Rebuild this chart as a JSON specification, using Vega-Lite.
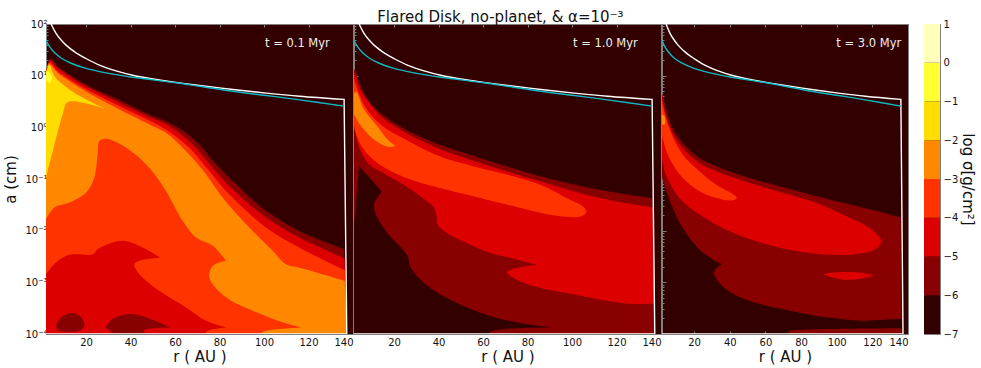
{"$schema":"https://vega.github.io/schema/vega-lite/v6.json","background":"white","padding":{"left":3,"top":9,"right":2,"bottom":2},"title":{"text":"Flared Disk,  no-planet, & α=10⁻³","fontSize":15,"fontWeight":"normal","font":"DejaVu Sans","color":"#111","anchor":"middle","offset":-3,"dy":3,"dx":11},"config":{"font":"DejaVu Sans","view":{"stroke":"#808080","fill":"#330000","strokeWidth":1},"axis":{"grid":false,"labelFontSize":10,"labelColor":"#111","tickColor":"#808080","domainColor":"#808080","titleFontSize":15,"titleFontWeight":"normal","titleColor":"#111","zindex":1}},"datasets":{"curves":[{"s":"white","r":4.3,"a":100},{"s":"white","r":6.5,"a":66},{"s":"white","r":8.8,"a":49},{"s":"white","r":11,"a":39},{"s":"white","r":15.5,"a":27.6},{"s":"white","r":20,"a":21.4},{"s":"white","r":26,"a":16},{"s":"white","r":33.5,"a":12.4},{"s":"white","r":41,"a":10.2},{"s":"white","r":50,"a":8.6},{"s":"white","r":60.4,"a":7.4},{"s":"white","r":71,"a":6.45},{"s":"white","r":86,"a":5.4},{"s":"white","r":101,"a":4.6},{"s":"white","r":116,"a":4},{"s":"white","r":136,"a":3.47},{"s":"white","r":136,"a":3.47},{"s":"white","r":137.2,"a":0.0001},{"s":"white","r":137.2,"a":0.0001},{"s":"white","r":2,"a":0.0001},{"s":"teal","r":2,"a":48},{"s":"teal","r":3.5,"a":37},{"s":"teal","r":5.8,"a":28},{"s":"teal","r":8.8,"a":22},{"s":"teal","r":13.3,"a":17.4},{"s":"teal","r":20,"a":13.8},{"s":"teal","r":29,"a":11.3},{"s":"teal","r":41,"a":9.3},{"s":"teal","r":60.4,"a":7.3},{"s":"teal","r":71,"a":6.25},{"s":"teal","r":86,"a":5},{"s":"teal","r":101,"a":4.13},{"s":"teal","r":116,"a":3.4},{"s":"teal","r":136,"a":2.57}],"p1":[{"g":"a","l":"-6","r":2,"a":12.2},{"g":"a","l":"-6","r":4,"a":21.4},{"g":"a","l":"-6","r":7.3,"a":15.2},{"g":"a","l":"-6","r":18.5,"a":7.25},{"g":"a","l":"-6","r":33.5,"a":3.61},{"g":"a","l":"-6","r":48.4,"a":1.77},{"g":"a","l":"-6","r":58.9,"a":1.14},{"g":"a","l":"-6","r":69.4,"a":0.542},{"g":"a","l":"-6","r":78.4,"a":0.192},{"g":"a","l":"-6","r":85.9,"a":0.0917},{"g":"a","l":"-6","r":100.9,"a":0.0242},{"g":"a","l":"-6","r":115.8,"a":0.0099},{"g":"a","l":"-6","r":136,"a":0.00439},{"g":"a","l":"-6","r":136,"a":0.00439},{"g":"a","l":"-6","r":137.2,"a":0.0001},{"g":"a","l":"-6","r":137.2,"a":0.0001},{"g":"a","l":"-6","r":2,"a":0.0001},{"g":"b","l":"-5","r":2,"a":11.3},{"g":"b","l":"-5","r":3.8,"a":19.6},{"g":"b","l":"-5","r":7.3,"a":14.1},{"g":"b","l":"-5","r":18.5,"a":6.73},{"g":"b","l":"-5","r":33.5,"a":3.21},{"g":"b","l":"-5","r":48.4,"a":1.58},{"g":"b","l":"-5","r":57.4,"a":1.06},{"g":"b","l":"-5","r":67.9,"a":0.467},{"g":"b","l":"-5","r":77,"a":0.166},{"g":"b","l":"-5","r":84.4,"a":0.0733},{"g":"b","l":"-5","r":100.9,"a":0.0179},{"g":"b","l":"-5","r":115.8,"a":0.00736},{"g":"b","l":"-5","r":136.2,"a":0.00289},{"g":"b","l":"-5","r":136.2,"a":0.00289},{"g":"b","l":"-5","r":137.2,"a":0.0001},{"g":"b","l":"-5","r":137.2,"a":0.0001},{"g":"b","l":"-5","r":2,"a":0.0001},{"g":"c","l":"-4","r":2,"a":10.5},{"g":"c","l":"-4","r":3.5,"a":18.2},{"g":"c","l":"-4","r":7.3,"a":12.2},{"g":"c","l":"-4","r":18.5,"a":5.98},{"g":"c","l":"-4","r":33.5,"a":2.77},{"g":"c","l":"-4","r":48.4,"a":1.36},{"g":"c","l":"-4","r":55.9,"a":0.91},{"g":"c","l":"-4","r":66.4,"a":0.403},{"g":"c","l":"-4","r":75.4,"a":0.143},{"g":"c","l":"-4","r":82.9,"a":0.0588},{"g":"c","l":"-4","r":100.9,"a":0.0115},{"g":"c","l":"-4","r":115.8,"a":0.00472},{"g":"c","l":"-4","r":136.3,"a":0.00172},{"g":"c","l":"-4","r":136.3,"a":0.00172},{"g":"c","l":"-4","r":137.2,"a":0.0001},{"g":"c","l":"-4","r":137.2,"a":0.0001},{"g":"c","l":"-4","r":2,"a":0.0001},{"g":"d","l":"-3","r":2,"a":9.75},{"g":"d","l":"-3","r":3.2,"a":16.9},{"g":"d","l":"-3","r":7.3,"a":11.3},{"g":"d","l":"-3","r":18.5,"a":5.4},{"g":"d","l":"-3","r":33.5,"a":2.39},{"g":"d","l":"-3","r":48.4,"a":1.14},{"g":"d","l":"-3","r":55.9,"a":0.785},{"g":"d","l":"-3","r":64.9,"a":0.347},{"g":"d","l":"-3","r":73.9,"a":0.123},{"g":"d","l":"-3","r":81.4,"a":0.0436},{"g":"d","l":"-3","r":94.9,"a":0.0099},{"g":"d","l":"-3","r":103.9,"a":0.00407},{"g":"d","l":"-3","r":109.8,"a":0.00225},{"g":"d","l":"-3","r":115.8,"a":0.00194},{"g":"d","l":"-3","r":136.3,"a":0.00107},{"g":"d","l":"-3","r":136.3,"a":0.00107},{"g":"d","l":"-3","r":137.2,"a":0.0001},{"g":"d","l":"-3","r":137.2,"a":0.0001},{"g":"d","l":"-3","r":2,"a":0.0001},{"g":"e","l":"-2","r":2,"a":11.3},{"g":"e","l":"-2","r":3.5,"a":16},{"g":"e","l":"-2","r":5.8,"a":9.75},{"g":"e","l":"-2","r":12.5,"a":5.4},{"g":"e","l":"-2","r":23,"a":2.98},{"g":"e","l":"-2","r":28.2,"a":2.32},{"g":"e","l":"-2","r":28.2,"a":2.32},{"g":"e","l":"-2","r":11.8,"a":3.1},{"g":"e","l":"-2","r":9.5,"a":1.77},{"g":"e","l":"-2","r":5.8,"a":0.467},{"g":"e","l":"-2","r":2,"a":0.106},{"g":"f","l":"-1","r":2,"a":12},{"g":"f","l":"-1","r":3,"a":12},{"g":"f","l":"-1","r":4.7,"a":9.06},{"g":"f","l":"-1","r":3.5,"a":7.25},{"g":"f","l":"-1","r":2,"a":8.4},{"g":"h","l":"-4","r":2,"a":0.0167},{"g":"h","l":"-4","r":5.8,"a":0.028},{"g":"h","l":"-4","r":12.5,"a":0.035},{"g":"h","l":"-4","r":20,"a":0.0544},{"g":"h","l":"-4","r":23.7,"a":0.106},{"g":"h","l":"-4","r":25.2,"a":0.3},{"g":"h","l":"-4","r":26,"a":0.542},{"g":"h","l":"-4","r":29,"a":0.6},{"g":"h","l":"-4","r":38,"a":0.403},{"g":"h","l":"-4","r":48.4,"a":0.166},{"g":"h","l":"-4","r":55.9,"a":0.0588},{"g":"h","l":"-4","r":63.4,"a":0.0155},{"g":"h","l":"-4","r":69.4,"a":0.00736},{"g":"h","l":"-4","r":77,"a":0.00508},{"g":"h","l":"-4","r":82.9,"a":0.00261},{"g":"h","l":"-4","r":82.9,"a":0.00261},{"g":"h","l":"-4","r":77,"a":0.00209},{"g":"h","l":"-4","r":75.4,"a":0.00124},{"g":"h","l":"-4","r":82.9,"a":0.000512},{"g":"h","l":"-4","r":94.9,"a":0.000282},{"g":"h","l":"-4","r":108.3,"a":0.000168},{"g":"h","l":"-4","r":116.5,"a":0.000134},{"g":"h","l":"-4","r":116.5,"a":0.000134},{"g":"h","l":"-4","r":100.9,"a":0.000116},{"g":"h","l":"-4","r":98.6,"a":0.000104},{"g":"h","l":"-4","r":98.6,"a":0.0001},{"g":"h","l":"-4","r":2,"a":0.0001},{"g":"i","l":"-5","r":2,"a":0.00144},{"g":"i","l":"-5","r":6.5,"a":0.00242},{"g":"i","l":"-5","r":12.5,"a":0.0034},{"g":"i","l":"-5","r":23,"a":0.00351},{"g":"i","l":"-5","r":25.2,"a":0.00439},{"g":"i","l":"-5","r":36.5,"a":0.00635},{"g":"i","l":"-5","r":45.4,"a":0.00472},{"g":"i","l":"-5","r":53.4,"a":0.00302},{"g":"i","l":"-5","r":53.4,"a":0.00302},{"g":"i","l":"-5","r":44,"a":0.00261},{"g":"i","l":"-5","r":41.7,"a":0.00225},{"g":"i","l":"-5","r":44,"a":0.00144},{"g":"i","l":"-5","r":52.9,"a":0.000685},{"g":"i","l":"-5","r":64.9,"a":0.000327},{"g":"i","l":"-5","r":73.9,"a":0.000181},{"g":"i","l":"-5","r":83.2,"a":0.000134},{"g":"i","l":"-5","r":83.2,"a":0.000134},{"g":"i","l":"-5","r":75.4,"a":0.000119},{"g":"i","l":"-5","r":73.6,"a":0.000104},{"g":"i","l":"-5","r":73.6,"a":0.0001},{"g":"i","l":"-5","r":2,"a":0.0001},{"g":"j","l":"-6","r":6.5,"a":0.000145},{"g":"j","l":"-6","r":8.8,"a":0.00021},{"g":"j","l":"-6","r":14,"a":0.000258},{"g":"j","l":"-6","r":17.8,"a":0.00021},{"g":"j","l":"-6","r":19.3,"a":0.000145},{"g":"j","l":"-6","r":17,"a":0.000116},{"g":"j","l":"-6","r":11,"a":0.000111},{"g":"j","l":"-6","r":7.3,"a":0.000116},{"g":"k","l":"-6","r":28.7,"a":0.000134},{"g":"k","l":"-6","r":32,"a":0.000195},{"g":"k","l":"-6","r":39.5,"a":0.000243},{"g":"k","l":"-6","r":47,"a":0.00021},{"g":"k","l":"-6","r":57.7,"a":0.000134},{"g":"k","l":"-6","r":57.7,"a":0.000134},{"g":"k","l":"-6","r":46.2,"a":0.000119},{"g":"k","l":"-6","r":45.9,"a":0.000104},{"g":"k","l":"-6","r":32,"a":0.000104}],"p2":[{"g":"a","l":"-6","r":2,"a":13.1},{"g":"a","l":"-6","r":2.5,"a":13.1},{"g":"a","l":"-6","r":4.3,"a":7.25},{"g":"a","l":"-6","r":8.8,"a":3.21},{"g":"a","l":"-6","r":14.8,"a":1.77},{"g":"a","l":"-6","r":25.2,"a":0.91},{"g":"a","l":"-6","r":40.2,"a":0.467},{"g":"a","l":"-6","r":55.2,"a":0.286},{"g":"a","l":"-6","r":70.2,"a":0.178},{"g":"a","l":"-6","r":85.2,"a":0.114},{"g":"a","l":"-6","r":100.2,"a":0.0788},{"g":"a","l":"-6","r":115.2,"a":0.0588},{"g":"a","l":"-6","r":136.2,"a":0.0425},{"g":"a","l":"-6","r":136.2,"a":0.0425},{"g":"a","l":"-6","r":137.1,"a":0.0001},{"g":"a","l":"-6","r":137.1,"a":0.0001},{"g":"a","l":"-6","r":2,"a":0.0001},{"g":"b","l":"-5","r":2,"a":11.3},{"g":"b","l":"-5","r":2.8,"a":9.75},{"g":"b","l":"-5","r":4.9,"a":5.4},{"g":"b","l":"-5","r":9.5,"a":2.77},{"g":"b","l":"-5","r":14.8,"a":1.53},{"g":"b","l":"-5","r":25.2,"a":0.785},{"g":"b","l":"-5","r":40.2,"a":0.386},{"g":"b","l":"-5","r":55.2,"a":0.229},{"g":"b","l":"-5","r":70.2,"a":0.143},{"g":"b","l":"-5","r":85.2,"a":0.0917},{"g":"b","l":"-5","r":100.2,"a":0.0588},{"g":"b","l":"-5","r":115.2,"a":0.0406},{"g":"b","l":"-5","r":127.2,"a":0.0324},{"g":"b","l":"-5","r":136.5,"a":0.028},{"g":"b","l":"-5","r":136.5,"a":0.028},{"g":"b","l":"-5","r":137,"a":0.000391},{"g":"b","l":"-5","r":137,"a":0.000391},{"g":"b","l":"-5","r":127.2,"a":0.00038},{"g":"b","l":"-5","r":115.2,"a":0.000439},{"g":"b","l":"-5","r":100.2,"a":0.000592},{"g":"b","l":"-5","r":85.2,"a":0.000796},{"g":"b","l":"-5","r":74.7,"a":0.00115},{"g":"b","l":"-5","r":70.7,"a":0.00155},{"g":"b","l":"-5","r":73.2,"a":0.0018},{"g":"b","l":"-5","r":84.5,"a":0.00218},{"g":"b","l":"-5","r":84.5,"a":0.00218},{"g":"b","l":"-5","r":74.7,"a":0.00281},{"g":"b","l":"-5","r":62.7,"a":0.00378},{"g":"b","l":"-5","r":52.2,"a":0.00589},{"g":"b","l":"-5","r":44.7,"a":0.00853},{"g":"b","l":"-5","r":39.5,"a":0.0133},{"g":"b","l":"-5","r":39.2,"a":0.0179},{"g":"b","l":"-5","r":38,"a":0.028},{"g":"b","l":"-5","r":32.7,"a":0.0436},{"g":"b","l":"-5","r":25.2,"a":0.0733},{"g":"b","l":"-5","r":14.8,"a":0.133},{"g":"b","l":"-5","r":8.8,"a":0.192},{"g":"b","l":"-5","r":4.3,"a":0.403},{"g":"b","l":"-5","r":2.8,"a":0.73},{"g":"b","l":"-5","r":2,"a":1.14},{"g":"c","l":"-4","r":2,"a":8.41},{"g":"c","l":"-4","r":7.3,"a":2.39},{"g":"c","l":"-4","r":14.8,"a":1.06},{"g":"c","l":"-4","r":25.2,"a":0.583},{"g":"c","l":"-4","r":40.2,"a":0.278},{"g":"c","l":"-4","r":55.2,"a":0.178},{"g":"c","l":"-4","r":70.2,"a":0.123},{"g":"c","l":"-4","r":85.2,"a":0.0788},{"g":"c","l":"-4","r":97.2,"a":0.0436},{"g":"c","l":"-4","r":104.7,"a":0.0301},{"g":"c","l":"-4","r":106.5,"a":0.0234},{"g":"c","l":"-4","r":104.7,"a":0.0193},{"g":"c","l":"-4","r":97.2,"a":0.0185},{"g":"c","l":"-4","r":85.2,"a":0.0224},{"g":"c","l":"-4","r":70.2,"a":0.0324},{"g":"c","l":"-4","r":55.2,"a":0.0471},{"g":"c","l":"-4","r":40.2,"a":0.0679},{"g":"c","l":"-4","r":25.2,"a":0.106},{"g":"c","l":"-4","r":13.3,"a":0.192},{"g":"c","l":"-4","r":5.8,"a":0.403},{"g":"c","l":"-4","r":2.5,"a":0.85},{"g":"c","l":"-4","r":2,"a":1.14},{"g":"d","l":"-3","r":2,"a":4.32},{"g":"d","l":"-3","r":2.8,"a":5},{"g":"d","l":"-3","r":6.5,"a":2.21},{"g":"d","l":"-3","r":11.8,"a":1.14},{"g":"d","l":"-3","r":17.8,"a":0.542},{"g":"d","l":"-3","r":20.7,"a":0.434},{"g":"d","l":"-3","r":20.7,"a":0.434},{"g":"d","l":"-3","r":17.8,"a":0.415},{"g":"d","l":"-3","r":11.8,"a":0.542},{"g":"d","l":"-3","r":5.8,"a":0.98},{"g":"d","l":"-3","r":2,"a":1.77},{"g":"e","l":"-7","r":2,"a":0.0115},{"g":"e","l":"-7","r":4.3,"a":0.178},{"g":"e","l":"-7","r":4.3,"a":0.178},{"g":"e","l":"-7","r":14.5,"a":0.0572},{"g":"e","l":"-7","r":14.5,"a":0.0572},{"g":"e","l":"-7","r":11,"a":0.0324},{"g":"e","l":"-7","r":11.8,"a":0.0208},{"g":"e","l":"-7","r":16.3,"a":0.0099},{"g":"e","l":"-7","r":26,"a":0.00326},{"g":"e","l":"-7","r":27.5,"a":0.00194},{"g":"e","l":"-7","r":34.2,"a":0.000923},{"g":"e","l":"-7","r":46.2,"a":0.000439},{"g":"e","l":"-7","r":62.7,"a":0.000226},{"g":"e","l":"-7","r":79.2,"a":0.000156},{"g":"e","l":"-7","r":91.2,"a":0.000134},{"g":"e","l":"-7","r":91.2,"a":0.000134},{"g":"e","l":"-7","r":65.7,"a":0.000119},{"g":"e","l":"-7","r":62.7,"a":0.000104},{"g":"e","l":"-7","r":62.7,"a":0.0001},{"g":"e","l":"-7","r":2,"a":0.0001}],"p3":[{"g":"a","l":"-6","r":2,"a":4.65},{"g":"a","l":"-6","r":4.1,"a":2.39},{"g":"a","l":"-6","r":7.9,"a":0.98},{"g":"a","l":"-6","r":13.5,"a":0.504},{"g":"a","l":"-6","r":22.8,"a":0.258},{"g":"a","l":"-6","r":32.1,"a":0.178},{"g":"a","l":"-6","r":50.8,"a":0.106},{"g":"a","l":"-6","r":69.5,"a":0.07},{"g":"a","l":"-6","r":88.2,"a":0.0471},{"g":"a","l":"-6","r":106.9,"a":0.0324},{"g":"a","l":"-6","r":125.6,"a":0.0224},{"g":"a","l":"-6","r":135.9,"a":0.0179},{"g":"a","l":"-6","r":135.9,"a":0.0179},{"g":"a","l":"-6","r":136.4,"a":0.000195},{"g":"a","l":"-6","r":136.4,"a":0.000195},{"g":"a","l":"-6","r":125.6,"a":0.000189},{"g":"a","l":"-6","r":116.3,"a":0.000181},{"g":"a","l":"-6","r":106.9,"a":0.000189},{"g":"a","l":"-6","r":88.2,"a":0.000226},{"g":"a","l":"-6","r":69.5,"a":0.000304},{"g":"a","l":"-6","r":50.8,"a":0.000439},{"g":"a","l":"-6","r":37.8,"a":0.000741},{"g":"a","l":"-6","r":31.2,"a":0.00144},{"g":"a","l":"-6","r":32.1,"a":0.0018},{"g":"a","l":"-6","r":35.9,"a":0.00225},{"g":"a","l":"-6","r":35.9,"a":0.00225},{"g":"a","l":"-6","r":31.2,"a":0.00269},{"g":"a","l":"-6","r":22.8,"a":0.00439},{"g":"a","l":"-6","r":13.5,"a":0.0115},{"g":"a","l":"-6","r":7.9,"a":0.028},{"g":"a","l":"-6","r":4.1,"a":0.0631},{"g":"a","l":"-6","r":2,"a":0.106},{"g":"b","l":"-5","r":2,"a":4.32},{"g":"b","l":"-5","r":4.1,"a":1.77},{"g":"b","l":"-5","r":7.9,"a":0.785},{"g":"b","l":"-5","r":13.5,"a":0.403},{"g":"b","l":"-5","r":22.8,"a":0.207},{"g":"b","l":"-5","r":32.1,"a":0.143},{"g":"b","l":"-5","r":50.8,"a":0.085},{"g":"b","l":"-5","r":69.5,"a":0.0544},{"g":"b","l":"-5","r":88.2,"a":0.035},{"g":"b","l":"-5","r":106.9,"a":0.0179},{"g":"b","l":"-5","r":118.1,"a":0.0115},{"g":"b","l":"-5","r":124.7,"a":0.00684},{"g":"b","l":"-5","r":124.7,"a":0.0055},{"g":"b","l":"-5","r":120,"a":0.00407},{"g":"b","l":"-5","r":110.7,"a":0.00351},{"g":"b","l":"-5","r":97.6,"a":0.0034},{"g":"b","l":"-5","r":78.9,"a":0.00395},{"g":"b","l":"-5","r":60.2,"a":0.0055},{"g":"b","l":"-5","r":41.5,"a":0.0092},{"g":"b","l":"-5","r":22.8,"a":0.0208},{"g":"b","l":"-5","r":11.6,"a":0.0436},{"g":"b","l":"-5","r":4.1,"a":0.123},{"g":"b","l":"-5","r":2,"a":0.26},{"g":"c","l":"-4","r":2,"a":3.21},{"g":"c","l":"-4","r":6,"a":0.98},{"g":"c","l":"-4","r":13.5,"a":0.3},{"g":"c","l":"-4","r":22.8,"a":0.143},{"g":"c","l":"-4","r":32.1,"a":0.0788},{"g":"c","l":"-4","r":43.9,"a":0.0436},{"g":"c","l":"-4","r":41.5,"a":0.0387},{"g":"c","l":"-4","r":32.1,"a":0.0436},{"g":"c","l":"-4","r":22.8,"a":0.0588},{"g":"c","l":"-4","r":13.5,"a":0.106},{"g":"c","l":"-4","r":6,"a":0.258},{"g":"c","l":"-4","r":2,"a":0.68},{"g":"d","l":"-3","r":2,"a":1.77},{"g":"d","l":"-3","r":3.4,"a":1.65},{"g":"d","l":"-3","r":3.4,"a":1.14},{"g":"d","l":"-3","r":2,"a":1.14},{"g":"e","l":"-5","r":92.3,"a":0.00144},{"g":"e","l":"-5","r":97.6,"a":0.00155},{"g":"e","l":"-5","r":110.7,"a":0.00157},{"g":"e","l":"-5","r":120.4,"a":0.00137},{"g":"e","l":"-5","r":114.4,"a":0.00119},{"g":"e","l":"-5","r":105,"a":0.00112},{"g":"e","l":"-5","r":97.6,"a":0.00124},{"g":"f","l":"-6","r":73.3,"a":0.000116},{"g":"f","l":"-6","r":88.2,"a":0.000123},{"g":"f","l":"-6","r":135.9,"a":0.000129},{"g":"f","l":"-6","r":135.9,"a":0.000129},{"g":"f","l":"-6","r":135.9,"a":0.0001},{"g":"f","l":"-6","r":73.3,"a":0.0001}]},"bounds":"full","spacing":14,"hconcat":[{"bounds":"flush","spacing":1,"hconcat":[{"width":307,"height":310,"resolve":{"axis":{"x":"independent","y":"independent"}},"layer":[{"data":{"name":"p1"},"mark":{"type":"line","strokeWidth":0,"order":null,"clip":true,"interpolate":"catmull-rom"},"encoding":{"x":{"field":"r","type":"quantitative","scale":{"domain":[2,140],"nice":false,"zero":false},"axis":{"orient":"bottom","values":[20,40,60,80,100,120,140],"tickSize":-3,"domain":false,"labelPadding":6,"title":"r ( AU )","titlePadding":2}},"y":{"field":"a","type":"quantitative","scale":{"type":"log","base":10,"domain":[0.0001,100],"nice":false},"axis":{"orient":"left","values":[0.0001,0.001,0.01,0.1,1,10,100],"tickSize":-4,"labelPadding":3,"labelExpr":"datum.value>=100?'10²':datum.value>=10?'10¹':datum.value>=1?'10⁰':datum.value>=0.1?'10⁻¹':datum.value>=0.01?'10⁻²':datum.value>=0.001?'10⁻³':'10⁻⁴'","title":"a (cm)","titlePadding":6}},"fill":{"field":"l","type":"nominal","scale":{"domain":["-7","-6","-5","-4","-3","-2","-1","0"],"range":["#330000","#880000","#dd0000","#ff3300","#ff8800","#ffdd00","#ffff33","#ffffbb"]},"legend":null},"detail":{"field":"g"}}},{"data":{"name":"curves"},"mark":{"type":"line","strokeWidth":1.4,"order":null,"clip":true,"interpolate":"catmull-rom"},"encoding":{"x":{"field":"r","type":"quantitative","scale":{"domain":[2,140],"nice":false,"zero":false},"axis":{"orient":"top","values":[20,40,60,80,100,120,140],"tickSize":-3,"domain":true,"labels":false,"title":null}},"y":{"field":"a","type":"quantitative","scale":{"type":"log","base":10,"domain":[0.0001,100],"nice":false},"axis":{"orient":"left","values":[0.0002,0.0003,0.0004,0.0005,0.0006,0.0007,0.0008,0.0009,0.002,0.003,0.004,0.005,0.006,0.007,0.008,0.009,0.02,0.03,0.04,0.05,0.06,0.07,0.08,0.09,0.2,0.3,0.4,0.5,0.6,0.7,0.8,0.9,2,3,4,5,6,7,8,9,20,30,40,50,60,70,80,90],"tickSize":-2,"labels":false,"title":null}},"stroke":{"field":"s","type":"nominal","scale":{"domain":["white","teal"],"range":["#ffffff","#0fb9c4"]},"legend":null}}},{"data":{"values":[{"r":115,"a":41.7,"t":"t = 0.1 Myr"}]},"mark":{"type":"text","fontSize":11.5,"color":"#eeeeee","align":"center","baseline":"middle"},"encoding":{"x":{"field":"r","type":"quantitative","scale":{"domain":[2,140],"nice":false,"zero":false},"axis":null},"y":{"field":"a","type":"quantitative","scale":{"type":"log","base":10,"domain":[0.0001,100],"nice":false},"axis":null},"text":{"field":"t"}}}]},{"width":307,"height":310,"resolve":{"axis":{"x":"independent","y":"independent"}},"layer":[{"data":{"name":"p2"},"mark":{"type":"line","strokeWidth":0,"order":null,"clip":true,"interpolate":"catmull-rom"},"encoding":{"x":{"field":"r","type":"quantitative","scale":{"domain":[2,140],"nice":false,"zero":false},"axis":{"orient":"bottom","values":[20,40,60,80,100,120,140],"tickSize":-3,"domain":false,"labelPadding":6,"title":"r ( AU )","titlePadding":2}},"y":{"field":"a","type":"quantitative","scale":{"type":"log","base":10,"domain":[0.0001,100],"nice":false},"axis":{"orient":"left","values":[0.0001,0.001,0.01,0.1,1,10,100],"tickSize":-4,"labels":false,"title":null}},"fill":{"field":"l","type":"nominal","scale":{"domain":["-7","-6","-5","-4","-3","-2","-1","0"],"range":["#330000","#880000","#dd0000","#ff3300","#ff8800","#ffdd00","#ffff33","#ffffbb"]},"legend":null},"detail":{"field":"g"}}},{"data":{"name":"curves"},"mark":{"type":"line","strokeWidth":1.4,"order":null,"clip":true,"interpolate":"catmull-rom"},"encoding":{"x":{"field":"r","type":"quantitative","scale":{"domain":[2,140],"nice":false,"zero":false},"axis":{"orient":"top","values":[20,40,60,80,100,120,140],"tickSize":-3,"domain":true,"labels":false,"title":null}},"y":{"field":"a","type":"quantitative","scale":{"type":"log","base":10,"domain":[0.0001,100],"nice":false},"axis":{"orient":"left","values":[0.0002,0.0003,0.0004,0.0005,0.0006,0.0007,0.0008,0.0009,0.002,0.003,0.004,0.005,0.006,0.007,0.008,0.009,0.02,0.03,0.04,0.05,0.06,0.07,0.08,0.09,0.2,0.3,0.4,0.5,0.6,0.7,0.8,0.9,2,3,4,5,6,7,8,9,20,30,40,50,60,70,80,90],"tickSize":-2,"labels":false,"title":null}},"stroke":{"field":"s","type":"nominal","scale":{"domain":["white","teal"],"range":["#ffffff","#0fb9c4"]},"legend":null}}},{"data":{"values":[{"r":115,"a":41.7,"t":"t = 1.0 Myr"}]},"mark":{"type":"text","fontSize":11.5,"color":"#eeeeee","align":"center","baseline":"middle"},"encoding":{"x":{"field":"r","type":"quantitative","scale":{"domain":[2,140],"nice":false,"zero":false},"axis":null},"y":{"field":"a","type":"quantitative","scale":{"type":"log","base":10,"domain":[0.0001,100],"nice":false},"axis":null},"text":{"field":"t"}}}]},{"width":246,"height":310,"resolve":{"axis":{"x":"independent","y":"independent"}},"layer":[{"data":{"name":"p3"},"mark":{"type":"line","strokeWidth":0,"order":null,"clip":true,"interpolate":"catmull-rom"},"encoding":{"x":{"field":"r","type":"quantitative","scale":{"domain":[2,140],"nice":false,"zero":false},"axis":{"orient":"bottom","values":[20,40,60,80,100,120,140],"tickSize":-3,"domain":false,"labelPadding":6,"title":"r ( AU )","titlePadding":2}},"y":{"field":"a","type":"quantitative","scale":{"type":"log","base":10,"domain":[0.0001,100],"nice":false},"axis":{"orient":"left","values":[0.0001,0.001,0.01,0.1,1,10,100],"tickSize":-4,"labels":false,"title":null}},"fill":{"field":"l","type":"nominal","scale":{"domain":["-7","-6","-5","-4","-3","-2","-1","0"],"range":["#330000","#880000","#dd0000","#ff3300","#ff8800","#ffdd00","#ffff33","#ffffbb"]},"legend":null},"detail":{"field":"g"}}},{"data":{"name":"curves"},"mark":{"type":"line","strokeWidth":1.4,"order":null,"clip":true,"interpolate":"catmull-rom"},"encoding":{"x":{"field":"r","type":"quantitative","scale":{"domain":[2,140],"nice":false,"zero":false},"axis":{"orient":"top","values":[20,40,60,80,100,120,140],"tickSize":-3,"domain":true,"labels":false,"title":null}},"y":{"field":"a","type":"quantitative","scale":{"type":"log","base":10,"domain":[0.0001,100],"nice":false},"axis":{"orient":"left","values":[0.0002,0.0003,0.0004,0.0005,0.0006,0.0007,0.0008,0.0009,0.002,0.003,0.004,0.005,0.006,0.007,0.008,0.009,0.02,0.03,0.04,0.05,0.06,0.07,0.08,0.09,0.2,0.3,0.4,0.5,0.6,0.7,0.8,0.9,2,3,4,5,6,7,8,9,20,30,40,50,60,70,80,90],"tickSize":-2,"labels":false,"title":null}},"stroke":{"field":"s","type":"nominal","scale":{"domain":["white","teal"],"range":["#ffffff","#0fb9c4"]},"legend":null}}},{"data":{"values":[{"r":118,"a":41.7,"t":"t = 3.0 Myr"}]},"mark":{"type":"text","fontSize":11.5,"color":"#eeeeee","align":"center","baseline":"middle"},"encoding":{"x":{"field":"r","type":"quantitative","scale":{"domain":[2,140],"nice":false,"zero":false},"axis":null},"y":{"field":"a","type":"quantitative","scale":{"type":"log","base":10,"domain":[0.0001,100],"nice":false},"axis":null},"text":{"field":"t"}}}]}]},{"width":16,"height":310,"data":{"values":[{"lo":-7,"hi":-6,"l":"-7"},{"lo":-6,"hi":-5,"l":"-6"},{"lo":-5,"hi":-4,"l":"-5"},{"lo":-4,"hi":-3,"l":"-4"},{"lo":-3,"hi":-2,"l":"-3"},{"lo":-2,"hi":-1,"l":"-2"},{"lo":-1,"hi":0,"l":"-1"},{"lo":0,"hi":1,"l":"0"}]},"mark":{"type":"rect"},"encoding":{"y":{"field":"lo","type":"quantitative","scale":{"domain":[-7,1],"nice":false,"zero":false},"axis":{"orient":"right","values":[-7,-6,-5,-4,-3,-2,-1,0,1],"format":"d","tickSize":0,"domain":false,"labelPadding":3,"title":"log σ[g/cm²]","titlePadding":2,"titleFontSize":15}},"y2":{"field":"hi"},"fill":{"field":"l","type":"nominal","scale":{"domain":["-7","-6","-5","-4","-3","-2","-1","0"],"range":["#330000","#880000","#dd0000","#ff3300","#ff8800","#ffdd00","#ffff33","#ffffbb"]},"legend":null}}}]}
